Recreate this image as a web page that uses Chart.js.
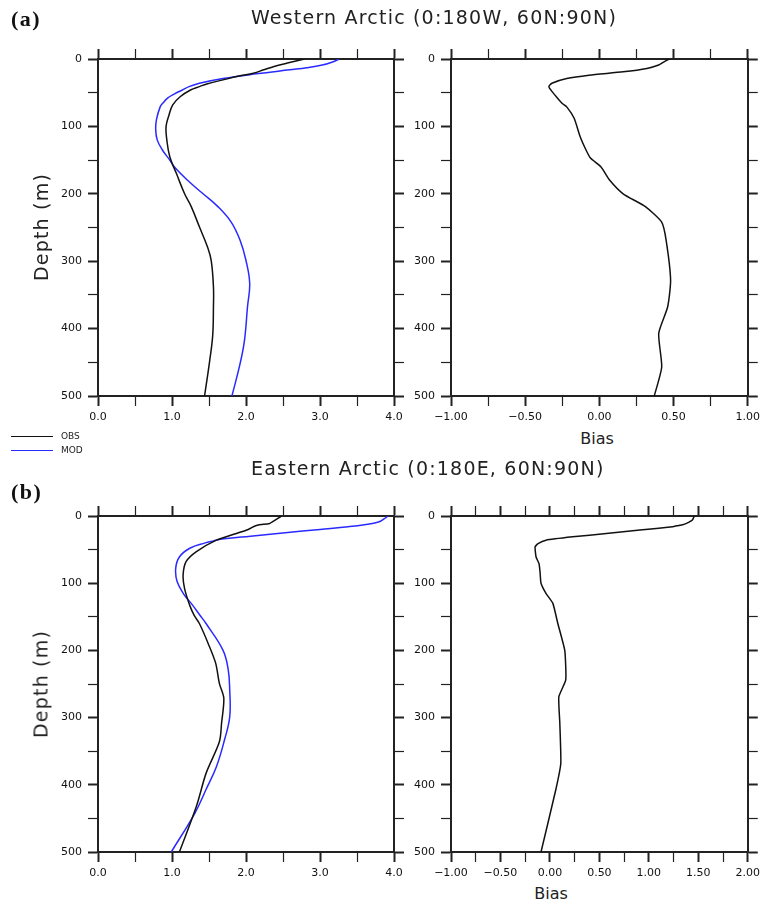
<!DOCTYPE html>
<html><head><meta charset="utf-8">
<script src="https://cdn.jsdelivr.net/npm/chart.js@4.4.1/dist/chart.umd.min.js"></script>
<style>
html,body{margin:0;padding:0;background:#fff}
body{width:764px;height:903px;position:relative;overflow:hidden;font-family:'DejaVu Sans',sans-serif;color:#222}
canvas{position:absolute}
.t{position:absolute;white-space:nowrap;line-height:1}
.panel{font-family:'Liberation Serif',serif;font-weight:bold;font-size:22px;letter-spacing:1.5px;color:#111}
.title{font-size:19px;letter-spacing:1.2px}
.ylab{font-size:19px;letter-spacing:1.2px;transform:translate(-50%,-50%) rotate(-90deg)}
.xlab{font-size:16px;transform:translateX(-50%)}
.leg{font-size:9px;color:#222}
.legline{position:absolute;height:0;width:42px}
</style></head><body>
<canvas id="aL" width="410" height="426" style="left:0;top:0"></canvas>
<canvas id="aR" width="355" height="426" style="left:410px;top:0"></canvas>
<canvas id="bL" width="410" height="432" style="left:0;top:450px"></canvas>
<canvas id="bR" width="355" height="432" style="left:410px;top:450px"></canvas>

<div class="t panel" style="left:11px;top:8px">(a)</div>
<div class="t title" style="left:251px;top:8px">Western Arctic (0:180W, 60N:90N)</div>
<div class="t ylab" style="left:41px;top:227px">Depth (m)</div>
<div class="t xlab" style="left:597px;top:431px">Bias</div>

<div class="legline" style="left:11px;top:436px;border-top:1.5px solid #111"></div>
<div class="t leg" style="left:61px;top:432px">OBS</div>
<div class="legline" style="left:11px;top:450px;border-top:1.5px solid #2a2aff"></div>
<div class="t leg" style="left:61px;top:446px">MOD</div>

<div class="t title" style="left:251px;top:459px">Eastern Arctic (0:180E, 60N:90N)</div>
<div class="t panel" style="left:11px;top:481px">(b)</div>
<div class="t ylab" style="left:41px;top:684px">Depth (m)</div>
<div class="t xlab" style="left:551px;top:886px">Bias</div>

<script>
// ---- Data (depth in m) ----
// Panel (a) Western Arctic
const depthObsA = [0,6,11,16,21,25,31,37,41,46,56,68,83,100,120,145,170,200,219,249,279,299,338,368,410,447,500];
const obsA      = [2.79,2.56,2.38,2.24,2.10,1.92,1.69,1.47,1.37,1.25,1.11,1.01,0.96,0.92,0.93,0.97,1.06,1.17,1.26,1.37,1.48,1.53,1.56,1.56,1.55,1.51,1.44];
const depthModA = [0,4,9,13,16,22,29,36,41,46,52,58,65,71,90,105,120,135,150,160,180,200,219,242,269,299,333,368,417,452,500];
const modA      = [3.26,3.18,3.03,2.82,2.59,2.14,1.69,1.37,1.23,1.14,1.03,0.94,0.88,0.84,0.79,0.78,0.80,0.87,0.97,1.03,1.21,1.42,1.62,1.80,1.92,2.00,2.05,2.02,1.98,1.92,1.81];
const depthBiasA = [0,5,9,14,19,24,29,36,41,48,56,66,71,88,115,135,147,160,180,200,219,242,269,328,368,407,457,500];
const biasA      = [0.47,0.43,0.40,0.32,0.16,-0.07,-0.22,-0.32,-0.34,-0.32,-0.29,-0.25,-0.22,-0.17,-0.13,-0.09,-0.06,0.01,0.07,0.16,0.31,0.42,0.45,0.48,0.46,0.40,0.42,0.37];

// Panel (b) Eastern Arctic
const depthObsB = [0,9,11,14,20,26,36,53,68,88,108,133,148,160,190,219,249,271,308,336,383,432,500];
const obsB      = [2.48,2.35,2.32,2.14,2.03,1.87,1.60,1.33,1.19,1.15,1.17,1.24,1.30,1.37,1.49,1.59,1.64,1.70,1.67,1.64,1.46,1.33,1.10];
const depthModB = [0,4,9,13,16,20,25,30,34,37,40,48,61,78,98,118,130,148,160,200,229,259,299,333,373,407,442,500];
const modB      = [3.92,3.87,3.79,3.60,3.38,3.00,2.53,2.06,1.70,1.56,1.45,1.24,1.10,1.05,1.07,1.17,1.26,1.38,1.46,1.69,1.76,1.78,1.78,1.71,1.60,1.46,1.31,0.99];
const depthBiasB = [0,6,11,13,14,16,21,26,31,36,41,46,61,71,83,100,115,130,160,200,244,269,308,368,407,500];
const biasB      = [1.46,1.44,1.38,1.34,1.30,1.24,0.91,0.57,0.23,-0.04,-0.12,-0.15,-0.14,-0.11,-0.10,-0.09,-0.04,0.03,0.08,0.15,0.16,0.09,0.10,0.11,0.06,-0.09];

// Axis tick definitions
const depthTicks = [0,100,200,300,400,500];
const tempRange = [0, 4];  const tempStep = 0.5;
const biasRangeA = [-1, 1]; const biasRangeB = [-1, 2]; const biasStep = 0.25;

const OBS_COLOR = '#111111';
const MOD_COLOR = '#2a2aff';

function pts(d, v){ return d.map((y,i)=>({x:v[i], y:y})); }

function fmtMinus(s){ return s.replace('-', '\u2212'); }

function makeChart(id, xr, step, labelFn, isMajor, datasets, dims){
  const tickFont = {family:"'DejaVu Sans', sans-serif", size:11};
  const grid = {
    drawOnChartArea:false, drawTicks:true, tickLength:10,
    tickColor:'#222',
    tickWidth: ctx => (ctx.tick && isMajor(ctx.tick.value)) ? 2 : 1.2
  };
  const gridY = {
    drawOnChartArea:false, drawTicks:true, tickLength:10,
    tickColor:'#222',
    tickWidth: ctx => (ctx.tick && depthTicks.includes(ctx.tick.value)) ? 2 : 1.2
  };
  const border = {display:true, color:'#222', width:2};
  return new Chart(document.getElementById(id), {
    type:'scatter',
    data:{datasets: datasets},
    options:{
      responsive:false, animation:false, devicePixelRatio:1,
      layout:{padding:0},
      plugins:{legend:{display:false}, tooltip:{enabled:false}},
      elements:{point:{radius:0, hoverRadius:0}},
      scales:{
        x:{type:'linear', position:'bottom', min:xr[0], max:xr[1],
           ticks:{stepSize:step, autoSkip:false, maxRotation:0, minRotation:0, padding:5,
                  color:'#111', font:tickFont, callback:v=>labelFn(v)},
           grid:grid, border:border, afterFit:s=>{s.height=dims.bottom;}},
        x2:{type:'linear', position:'top', min:xr[0], max:xr[1],
           ticks:{stepSize:step, autoSkip:false, display:false},
           grid:grid, border:border, afterFit:s=>{s.height=dims.top;}},
        y:{type:'linear', position:'left', min:0, max:500, reverse:true,
           ticks:{stepSize:50, autoSkip:false, padding:6, color:'#111', font:tickFont,
                  callback:v=>depthTicks.includes(v)?String(v):''},
           grid:gridY, border:border, afterFit:s=>{s.width=dims.left;}},
        y2:{type:'linear', position:'right', min:0, max:500, reverse:true,
           ticks:{stepSize:50, autoSkip:false, display:false},
           grid:gridY, border:border, afterFit:s=>{s.width=dims.right;}}
      }
    }
  });
}

function lineDS(label, d, v, color, tension){
  return {label:label, data:pts(d,v), showLine:true, borderColor:color, backgroundColor:color,
          borderWidth:1.5, pointRadius:0, tension:tension, fill:false,
          xAxisID:'x', yAxisID:'y'};
}

const tempLabel = v => Number.isInteger(v) ? v.toFixed(1) : '';
const tempMajor = v => Number.isInteger(v);
const biasLabel = v => Number.isInteger(v*2) ? fmtMinus(v.toFixed(2)) : '';
const biasMajor = v => Number.isInteger(v*2);

makeChart('aL', tempRange, tempStep, tempLabel, tempMajor,
  [lineDS('OBS', depthObsA, obsA, OBS_COLOR, 0.4), lineDS('MOD', depthModA, modA, MOD_COLOR, 0.4)],
  {top:59, bottom:30, left:98, right:16});
makeChart('aR', biasRangeA, biasStep, biasLabel, biasMajor,
  [lineDS('Bias', depthBiasA, biasA, OBS_COLOR, 0.2)],
  {top:59, bottom:30, left:41, right:16});
makeChart('bL', tempRange, tempStep, tempLabel, tempMajor,
  [lineDS('OBS', depthObsB, obsB, OBS_COLOR, 0.3), lineDS('MOD', depthModB, modB, MOD_COLOR, 0.4)],
  {top:66, bottom:30, left:98, right:16});
makeChart('bR', biasRangeB, biasStep, biasLabel, biasMajor,
  [lineDS('Bias', depthBiasB, biasB, OBS_COLOR, 0.15)],
  {top:66, bottom:30, left:41, right:16});
</script>
</body></html>
